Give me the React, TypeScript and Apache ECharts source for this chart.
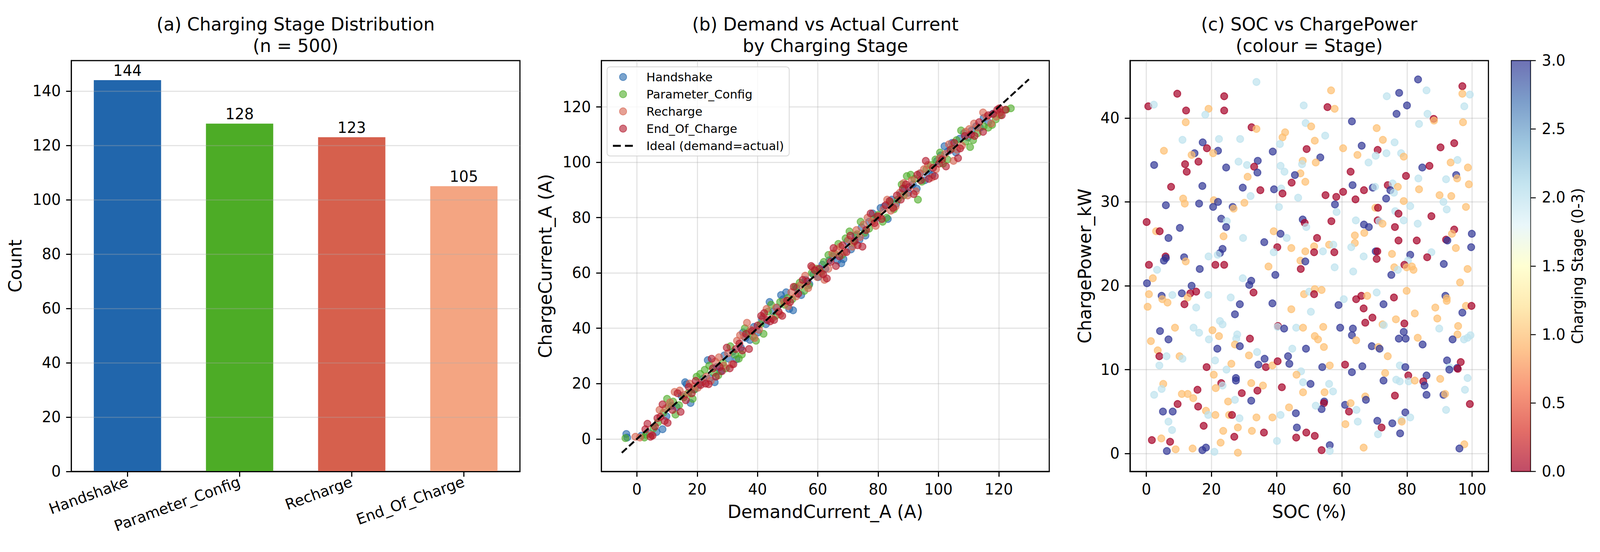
import React, { useEffect, useRef } from "react";
import * as echarts from "echarts";

// ---------------- data ----------------
const stageNames = ["Handshake", "Parameter_Config", "Recharge", "End_Of_Charge"];
const stageCounts = [144, 128, 123, 105];
const barColors = ["#2166ac", "#4dac26", "#d6604d", "#f4a582"];
const scatterColors = ["#2166ac", "#4dac26", "#d6604d", "#b2182b"];
const countTicks = [0, 20, 40, 60, 80, 100, 120, 140];
const currentTicks = [0, 20, 40, 60, 80, 100, 120];
const socTicks = [0, 20, 40, 60, 80, 100];
const powerTicks = [0, 10, 20, 30, 40];
const stageTicks = [0, 0.5, 1, 1.5, 2, 2.5, 3];
const idealName = "Ideal (demand=actual)";
const idealLine = [[-5, -5], [130, 130]];

// panel (b): [DemandCurrent_A, ChargeCurrent_A]
const handshakePts = [[-3.5,1.8],[-3.2,0.5],[1.5,1.2],[4.2,2.0],[6.5,2.5],[8.5,3.5],[9.8,8.2],[11.5,12.0],[13.2,11.5],[14.8,15.6],[16.0,20.5],[16.5,19.8],[17.8,13.0],[19.2,18.0],[20.5,19.5],[22.0,21.8],[23.5,28.5],[24.2,22.0],[25.8,20.5],[26.5,26.0],[27.8,24.5],[29.0,30.2],[30.5,29.0],[31.8,31.5],[33.0,28.8],[34.5,33.0],[35.2,38.5],[36.0,36.5],[37.5,35.8],[38.8,40.5],[40.2,38.5],[41.5,43.2],[42.8,41.5],[44.0,49.5],[45.2,46.0],[46.5,47.5],[47.8,52.0],[48.5,50.5],[49.5,53.0],[50.5,47.0],[51.8,46.5],[53.0,54.5],[54.5,52.0],[56.0,57.5],[57.2,56.0],[58.5,59.5],[60.2,58.5],[61.5,63.0],[62.5,61.5],[63.8,64.5],[65.0,66.0],[66.5,64.5],[67.8,63.5],[68.5,65.0],[69.8,71.5],[71.0,68.5],[72.5,73.5],[73.8,72.0],[74.5,76.5],[75.8,73.5],[77.0,78.5],[78.2,81.5],[79.5,80.0],[80.8,83.5],[82.0,84.0],[83.2,79.5],[84.5,86.5],[86.0,85.0],[87.5,88.5],[88.8,90.5],[90.0,89.0],[91.5,92.0],[92.8,90.5],[94.0,96.0],[95.5,93.5],[96.8,96.0],[98.0,95.5],[99.5,100.5],[100.8,102.5],[102.0,105.8],[103.2,104.0],[104.5,107.0],[105.8,103.5],[107.0,108.5],[108.5,110.5],[109.8,109.0],[111.0,111.5],[112.5,113.0],[113.8,112.5],[115.0,116.0],[116.5,114.5],[118.0,117.5]];
const paramConfigPts = [[-3.8,0.3],[2.5,0.5],[3.0,1.5],[5.5,3.8],[7.0,6.0],[8.8,9.5],[10.0,14.5],[10.5,11.8],[12.0,13.5],[12.8,8.8],[14.0,12.2],[15.5,15.0],[17.0,16.5],[18.5,14.5],[19.0,17.8],[19.8,22.5],[21.0,23.5],[22.5,25.0],[24.0,26.5],[25.5,24.0],[27.0,23.0],[28.5,27.5],[29.5,25.5],[31.0,33.5],[32.5,30.5],[33.8,29.0],[34.8,30.5],[35.8,40.0],[37.0,38.5],[38.5,37.0],[39.5,35.5],[41.0,41.5],[42.0,38.0],[43.5,46.0],[44.5,48.5],[46.0,44.5],[47.5,49.5],[49.0,48.5],[50.0,51.0],[51.5,50.5],[52.5,55.0],[54.0,56.5],[55.5,53.5],[57.0,55.5],[58.0,60.0],[59.5,61.5],[61.0,60.5],[62.0,64.0],[63.5,66.5],[65.5,67.0],[66.8,70.5],[68.0,66.5],[69.2,72.5],[70.5,75.0],[71.8,71.0],[73.0,74.0],[74.2,78.5],[75.5,74.5],[77.0,76.0],[78.5,79.5],[80.0,81.0],[81.5,78.5],[82.8,80.0],[84.0,85.5],[85.2,83.0],[86.5,86.5],[87.8,92.0],[88.5,88.0],[89.5,95.0],[90.8,95.5],[92.0,94.0],[93.2,86.5],[94.5,93.0],[96.0,97.5],[97.5,99.0],[99.0,101.0],[100.5,103.5],[101.5,99.5],[103.0,101.0],[104.5,105.0],[106.0,108.0],[107.5,111.5],[109.0,107.5],[110.5,105.5],[111.5,108.0],[113.0,110.5],[115.0,113.0],[116.5,112.5],[117.8,113.5],[119.0,115.5],[120.5,117.0],[122.5,119.0],[124.0,119.5]];
const rechargePts = [[-0.5,0.8],[1.0,0.5],[4.8,1.5],[7.5,10.5],[9.5,11.0],[11.0,13.2],[12.5,17.0],[14.2,17.5],[15.8,16.0],[17.5,20.0],[18.8,19.0],[20.2,18.5],[21.5,20.5],[23.0,22.5],[24.5,21.0],[26.0,28.0],[27.2,29.5],[28.8,26.5],[30.2,31.0],[31.5,27.0],[33.2,35.5],[34.2,37.5],[35.5,37.0],[36.5,42.0],[37.8,39.5],[39.0,36.5],[40.5,39.5],[41.8,44.0],[43.0,47.0],[44.8,43.5],[46.2,47.5],[47.5,45.0],[48.8,49.5],[50.2,48.0],[51.2,53.0],[52.8,51.5],[54.2,55.5],[55.8,59.0],[56.8,54.5],[58.2,62.0],[59.8,58.5],[61.2,60.0],[62.2,57.5],[63.5,61.5],[64.8,67.0],[66.2,68.5],[67.5,69.5],[68.8,67.5],[70.2,72.0],[71.5,69.5],[72.8,75.5],[74.0,73.0],[75.2,77.5],[76.5,80.0],[78.0,78.5],[79.2,77.0],[80.5,80.5],[81.8,83.0],[83.0,86.5],[84.2,82.5],[85.8,84.0],[87.2,89.0],[88.5,92.5],[89.8,88.0],[91.2,93.5],[92.5,89.5],[93.8,96.0],[95.2,97.5],[96.5,99.0],[97.8,94.5],[99.2,97.5],[100.5,101.5],[102.2,103.0],[103.5,106.5],[105.0,100.5],[106.2,104.5],[107.8,106.0],[109.0,111.0],[110.2,112.0],[111.8,114.0],[113.0,112.5],[114.8,118.0],[116.0,116.5],[117.5,114.0],[119.2,116.5],[120.5,118.0]];
const endOfChargePts = [[2.8,3.5],[3.5,5.5],[4.5,0.8],[5.2,1.2],[6.0,4.5],[6.8,7.5],[7.8,8.0],[8.5,12.5],[9.2,6.5],[10.2,5.8],[11.8,10.5],[13.5,16.5],[14.5,9.8],[16.2,14.0],[17.2,18.8],[18.2,16.5],[19.5,21.0],[21.2,19.5],[22.8,20.0],[23.8,19.8],[24.8,29.0],[25.2,25.5],[26.2,22.5],[27.5,26.0],[28.2,24.5],[29.8,33.0],[30.8,25.5],[32.0,27.0],[32.8,32.5],[34.0,34.5],[35.0,32.0],[36.2,38.0],[37.2,32.5],[38.2,39.0],[40.0,41.0],[41.2,44.5],[42.2,45.5],[43.2,43.0],[44.2,42.5],[45.5,43.0],[47.0,46.0],[48.2,44.5],[49.8,50.0],[50.8,49.5],[52.0,55.0],[53.5,52.5],[55.0,57.5],[56.5,57.0],[57.8,62.5],[59.0,61.0],[60.5,61.5],[61.8,59.5],[63.0,58.0],[64.2,64.0],[65.2,69.0],[66.0,62.5],[67.2,66.0],[68.2,70.0],[69.5,67.5],[70.8,73.5],[72.2,71.5],[73.2,70.0],[74.8,69.5],[76.0,75.5],[77.5,81.5],[78.8,78.0],[79.8,80.5],[81.2,79.5],[82.5,84.5],[83.8,86.0],[85.0,83.5],[86.2,88.0],[87.5,86.5],[88.2,90.5],[89.2,92.0],[90.2,91.0],[91.8,88.5],[93.0,95.5],[94.2,93.5],[95.8,100.5],[96.8,94.0],[98.2,98.0],[98.8,95.0],[100.2,99.5],[101.2,101.0],[102.5,98.5],[104.0,104.5],[105.2,107.0],[106.5,101.5],[107.2,105.0],[108.8,109.5],[110.8,110.0],[112.0,109.5],[113.5,114.5],[114.8,111.0],[116.5,117.0],[118.2,117.5],[119.5,119.0],[120.2,119.5],[121.0,117.0],[122.2,119.0]];
const stagePts = [handshakePts, paramConfigPts, rechargePts, endOfChargePts];

// panel (c): [SOC %, ChargePower_kW, stage 0-3]
const socPowerLowSocHigh = [[33.8,44.3,2],[9.5,42.9,0],[23.9,42.6,0],[0.6,41.4,0],[2.3,41.6,2],[12.2,40.9,0],[19.1,41.1,1],[18.1,40.4,2],[23.9,40.9,0],[48.3,41.5,2],[12.1,39.5,1],[32.3,38.9,0],[33.8,38.7,1],[48.9,39.4,2],[42.6,38.3,1],[41.8,37.7,1],[41.0,36.9,2],[11.1,37.4,2],[22.3,37.5,2],[28.8,37.5,2],[17.3,37.1,3],[18.6,36.4,0],[22.0,36.1,3],[5.4,36.1,1],[14.8,35.8,3],[13.9,35.6,1],[20.5,35.8,1],[49.2,36.3,0],[38.8,36.0,3],[2.4,34.4,3],[11.9,34.5,0],[16.0,34.8,0],[12.4,33.6,0],[24.5,34.1,3],[28.3,34.8,2],[30.9,34.4,2],[34.2,34.9,3],[33.1,34.2,0],[34.1,33.5,3],[31.1,33.0,1],[41.2,34.3,2],[42.4,33.6,2],[48.0,34.9,1],[47.8,34.5,2],[47.3,33.4,1],[45.6,33.2,3],[44.6,32.3,0],[48.8,32.4,1],[7.6,31.8,0],[17.2,31.9,3],[29.6,31.7,3],[35.0,31.4,0],[39.2,31.5,3],[41.4,31.6,2],[41.8,31.0,0],[32.0,30.7,2],[46.6,30.5,2],[11.3,30.4,1],[11.8,29.8,1],[6.0,29.6,3],[16.2,29.8,3],[20.7,30.2,1],[22.0,30.0,3],[20.5,29.4,3],[26.5,29.4,3],[26.8,29.2,1],[30.1,29.9,1],[40.7,29.4,2],[0.1,27.6,0],[3.0,26.5,1],[4.1,26.5,0],[10.3,26.9,3],[6.8,25.7,3],[23.0,28.0,3],[24.7,27.7,2],[24.5,27.0,3],[23.7,25.9,1],[29.7,25.7,2],[36.2,25.2,3],[39.1,26.5,1],[41.2,26.2,3],[43.1,25.7,2],[40.2,24.6,0],[39.1,24.0,2],[44.5,24.5,1],[48.8,24.1,1],[48.0,27.9,3],[48.6,27.5,0],[49.1,27.0,2],[23.4,24.4,3],[22.6,23.9,3],[21.9,23.7,2],[19.1,23.5,2],[5.9,23.5,0],[6.0,23.3,3],[5.4,23.0,3],[11.6,23.4,3],[12.1,22.9,1],[0.8,22.5,0],[21.2,22.5,0],[23.9,22.5,0],[37.5,22.3,1],[47.3,23.0,1],[48.8,22.9,3],[47.4,22.0,0],[3.3,21.9,2],[16.4,22.0,3]];
const socPowerHighSocHigh = [[56.7,43.3,1],[55.6,41.3,0],[57.8,41.1,1],[73.8,42.6,2],[77.6,43.0,3],[83.4,44.6,3],[86.0,43.3,2],[80.0,41.5,3],[76.8,40.5,3],[86.3,40.5,2],[88.2,39.9,0],[88.3,39.7,1],[83.7,39.3,2],[97.0,43.8,0],[97.0,42.9,1],[99.3,42.8,2],[97.6,41.4,2],[97.2,39.5,1],[63.1,39.6,3],[70.7,38.8,1],[54.9,37.9,2],[51.7,37.3,1],[72.6,37.4,1],[76.2,37.1,2],[60.4,36.4,1],[66.1,36.7,3],[71.0,36.2,0],[64.8,35.6,1],[70.4,35.5,2],[73.7,35.8,2],[78.2,35.8,2],[79.0,35.4,1],[53.4,35.3,3],[52.0,34.7,1],[68.2,34.7,2],[90.3,36.5,0],[94.5,37.0,0],[93.4,34.7,1],[95.5,35.0,2],[98.7,34.1,1],[84.7,34.1,3],[86.9,34.3,0],[62.7,33.6,0],[79.7,33.1,0],[83.5,32.8,2],[92.0,32.7,2],[95.1,33.2,3],[95.4,32.8,1],[99.0,32.1,1],[63.3,32.0,3],[66.8,31.4,0],[69.5,31.7,3],[70.2,31.8,2],[74.1,32.0,0],[75.6,32.2,2],[77.2,31.8,1],[74.9,31.4,3],[76.0,31.1,2],[83.7,31.5,1],[55.0,30.8,0],[58.3,30.6,0],[60.4,31.2,0],[64.2,30.3,0],[73.6,30.4,3],[90.0,30.8,1],[93.6,30.7,1],[91.2,30.0,2],[92.2,29.1,2],[79.0,30.1,1],[57.9,29.7,3],[58.4,28.8,2],[70.3,29.3,1],[71.1,29.3,0],[81.0,29.5,2],[76.4,28.9,2],[77.4,28.6,0],[98.1,29.4,1],[87.5,28.3,0],[56.8,27.7,0],[64.3,27.8,2],[71.0,27.8,0],[71.5,27.7,2],[72.5,27.4,1],[79.0,27.8,2],[83.3,27.4,2],[66.8,27.3,3],[68.3,27.0,3],[76.3,27.0,0],[64.0,26.0,1],[66.9,26.3,1],[64.0,25.1,1],[62.9,24.6,2],[52.4,25.7,0],[51.5,24.7,1],[51.5,24.0,0],[54.2,24.1,2],[56.1,24.9,1],[57.4,24.9,2],[57.7,24.0,0],[77.4,25.4,0],[83.0,25.4,0],[94.5,26.7,0],[93.8,26.2,1],[92.0,25.5,0],[92.4,25.4,3],[99.9,26.2,3],[95.0,24.5,1],[99.7,24.6,3],[70.4,24.1,3],[70.9,24.1,0],[70.7,23.2,0],[66.7,23.5,2],[75.4,23.8,1],[81.0,23.7,3],[87.5,24.0,2],[86.2,23.4,0],[91.3,22.6,3],[80.3,23.0,2],[50.6,39.0,1],[57.8,22.2,2],[76.1,22.2,1],[77.2,21.9,2],[79.2,22.5,0],[79.9,22.2,1],[81.5,22.3,1],[82.0,21.9,1],[75.2,21.3,3],[63.5,21.7,2],[98.6,22.0,1],[96.3,20.4,1]];
const socPowerLowSocLow = [[2.0,20.9,1],[0.2,20.3,3],[0.8,19.0,1],[4.7,18.8,3],[4.9,18.4,1],[6.5,18.0,1],[8.0,18.9,2],[0.4,17.5,1],[10.9,19.1,3],[13.9,20.0,3],[13.5,19.1,0],[15.3,19.3,0],[12.7,18.6,1],[11.7,17.8,0],[15.3,17.4,2],[19.0,18.9,2],[25.9,18.6,2],[28.7,17.8,3],[27.2,16.6,3],[29.6,20.9,2],[32.2,20.6,3],[31.6,20.1,3],[32.9,19.2,0],[39.6,21.3,3],[38.7,17.9,3],[44.5,17.2,1],[48.4,19.0,1],[50.0,19.3,2],[50.5,16.9,2],[22.6,15.8,2],[23.4,15.4,2],[8.8,15.0,1],[4.2,14.6,3],[14.5,15.0,2],[16.2,14.4,2],[20.3,14.7,1],[22.3,14.0,1],[19.2,13.6,2],[1.4,13.4,1],[6.8,13.6,3],[27.9,14.2,2],[27.6,13.7,2],[31.8,13.7,0],[27.2,13.0,1],[28.7,12.8,3],[21.8,12.5,3],[3.5,12.3,1],[4.0,11.6,0],[6.2,11.6,2],[10.2,11.6,1],[11.1,11.3,2],[4.0,10.5,2],[21.1,11.1,2],[18.5,10.3,0],[26.1,10.7,1],[24.6,10.0,2],[31.5,11.7,1],[34.0,12.1,2],[36.3,11.3,3],[34.4,10.6,3],[36.7,10.3,0],[38.7,10.5,1],[40.3,11.0,0],[40.4,15.2,0],[40.3,15.1,2],[42.3,14.9,3],[46.0,15.0,2],[48.1,15.0,1],[44.8,12.5,2],[49.0,12.5,3],[43.5,11.6,3],[43.9,10.7,3],[47.5,9.8,2],[46.1,9.4,1],[48.1,8.5,2],[50.4,8.3,3],[48.1,7.3,1],[20.7,9.4,1],[27.5,9.0,3],[27.5,8.7,3],[23.0,8.4,0],[23.4,8.1,2],[21.3,7.8,1],[32.2,8.4,1],[35.8,8.1,1],[34.1,7.5,0],[29.3,7.2,0],[41.6,7.9,0],[5.2,8.3,1],[4.7,7.7,2],[2.4,7.0,2],[10.9,7.1,1],[12.7,7.1,1],[14.4,6.6,1],[15.7,7.6,0],[9.6,5.9,0],[15.9,5.6,0],[18.3,5.1,1],[19.0,4.6,2],[21.2,4.6,1],[5.1,5.0,3],[8.1,5.0,3],[6.8,3.8,2],[7.9,2.8,2],[17.6,3.3,0],[25.1,6.2,1],[27.2,6.4,2],[32.2,6.3,3],[25.4,4.6,1],[26.3,4.6,0],[28.6,4.2,2],[33.8,4.3,1],[38.7,4.3,1],[41.2,4.6,2],[43.8,5.5,1],[45.9,4.8,3],[23.6,2.7,1],[28.1,3.1,1],[32.4,2.7,1],[36.1,2.5,0],[27.0,2.0,0],[46.2,3.1,3],[49.1,2.5,0],[46.0,1.9,0],[40.1,1.5,2],[1.7,1.6,0],[4.6,1.8,1],[7.3,1.4,0],[6.3,0.3,3],[9.0,0.5,1],[14.2,0.6,1],[17.2,0.4,3],[18.3,0.7,3],[20.9,0.2,2],[22.8,1.3,1],[28.1,0.1,1]];
const socPowerHighSocLow = [[51.7,19.6,1],[51.5,19.0,0],[53.8,19.5,1],[59.0,17.7,3],[60.6,18.4,2],[64.4,18.4,0],[66.0,18.8,0],[67.8,18.8,1],[70.7,19.2,2],[76.0,18.6,0],[72.8,17.8,3],[79.9,19.4,1],[66.7,17.3,0],[69.4,16.2,0],[67.2,15.6,0],[54.3,15.1,1],[59.5,15.0,3],[63.4,14.9,3],[63.1,14.1,3],[64.4,13.5,1],[51.7,14.0,1],[52.7,13.6,1],[54.5,12.7,1],[72.5,15.4,1],[72.9,15.3,2],[76.6,16.0,1],[79.2,15.5,0],[79.0,14.5,3],[77.5,13.7,3],[79.6,13.7,3],[82.4,16.7,1],[83.3,13.8,1],[84.8,13.0,3],[69.2,12.8,3],[71.2,12.7,1],[71.6,12.5,3],[74.1,11.6,1],[88.7,17.4,1],[89.3,16.1,1],[89.9,14.9,2],[91.8,18.8,3],[92.2,18.5,1],[92.2,18.2,1],[98.1,17.6,1],[99.8,17.6,0],[97.0,16.8,3],[95.7,15.2,1],[95.5,14.2,1],[94.0,13.6,3],[97.5,13.6,2],[98.6,13.8,2],[99.5,14.1,2],[54.0,10.3,3],[56.3,10.5,1],[61.0,10.6,0],[63.1,9.7,3],[66.3,10.4,3],[73.3,9.6,1],[72.8,8.7,3],[77.8,10.5,2],[79.5,10.3,3],[80.4,9.3,0],[80.5,8.6,2],[76.7,8.8,2],[77.8,8.6,2],[82.4,8.7,1],[86.0,9.3,3],[85.0,8.6,0],[85.4,8.1,3],[86.0,7.0,3],[90.2,8.9,1],[92.3,11.1,3],[93.0,10.3,2],[93.0,10.0,3],[96.5,10.9,0],[95.4,10.2,3],[95.6,10.1,0],[98.6,9.0,2],[97.8,7.6,2],[91.2,7.0,3],[91.7,7.1,1],[99.3,5.9,0],[92.0,5.2,2],[56.1,8.3,2],[54.7,7.3,1],[57.3,7.4,2],[54.6,6.2,3],[54.5,6.0,0],[53.8,5.3,3],[52.0,5.7,2],[67.2,6.8,1],[67.4,6.4,3],[76.3,6.9,0],[61.0,5.8,3],[62.7,6.0,1],[62.2,5.0,0],[64.5,5.2,2],[61.1,3.5,1],[64.9,3.8,2],[70.9,3.9,3],[72.2,3.1,0],[71.1,2.3,2],[75.5,3.6,3],[78.3,4.0,2],[78.4,3.8,1],[79.5,4.9,3],[81.0,4.3,2],[77.9,2.4,3],[51.7,2.1,0],[53.8,0.4,0],[56.3,1.0,3],[56.3,0.3,2],[66.7,0.7,1],[97.6,1.1,1],[96.1,0.6,3]];
const socPowerStage = [...socPowerLowSocHigh, ...socPowerHighSocHigh, ...socPowerLowSocLow, ...socPowerHighSocLow];

// RdYlBu colormap stops (0 -> 1) and per-stage colours
const rdylbu = ["#a50026", "#d73027", "#f46d43", "#fdae61", "#fee090", "#ffffbf", "#e0f3f8", "#abd9e9", "#74add1", "#4575b4", "#313695"];
const stageCmap = ["#a50026", "#fdbf71", "#bde2ee", "#313695"];

const FONT = "DejaVu Sans";
const REF_W = 4259;
const REF_H = 1412;

function buildOption(W: number, H: number) {
  const sx = W / REF_W;
  const sy = H / REF_H;
  const sf = Math.min(sx, sy);
  const X = (v: number) => v * sx;
  const Y = (v: number) => v * sy;
  const F = (v: number) => v * sf;

  const TICK_FS = F(39.7);
  const LABEL_FS = F(47.5);
  const LEGEND_FS = F(31.7);
  const GRID_LINE = { color: "rgba(170,170,170,0.32)", width: F(3) };
  const AXIS_LINE = { show: true, onZero: false, lineStyle: { color: "#000", width: F(3) } };
  const TICK_STYLE = { color: "#000", width: F(3) };

  const valueAxis = (grid: number, min: number, max: number, ticks: number[], name: string, gap: number, isY: boolean, extra: any = {}) => ({
    gridIndex: grid,
    type: "value",
    min,
    max,
    name,
    nameLocation: "middle",
    nameGap: gap,
    nameRotate: isY ? 90 : 0,
    nameTextStyle: { fontSize: LABEL_FS, fontFamily: FONT, color: "#000" },
    axisLine: AXIS_LINE,
    axisTick: { show: true, length: F(14), lineStyle: TICK_STYLE, customValues: ticks },
    axisLabel: { fontSize: TICK_FS, fontFamily: FONT, color: "#000", margin: F(28), customValues: ticks },
    splitLine: { show: true, lineStyle: GRID_LINE },
    ...extra,
  });

  const titleStyle = { fontSize: LABEL_FS, fontWeight: "normal", fontFamily: FONT, color: "#000", lineHeight: Y(55) };
  const gridBase = { show: true, borderColor: "#000", borderWidth: F(3), backgroundColor: "transparent", containLabel: false };
  const GT = Y(155);
  const GH = Y(1051);

  return {
    animation: false,
    backgroundColor: "#ffffff",
    title: [
      { text: "(a) Charging Stage Distribution\n(n = 500)", left: X(787), top: Y(35), textAlign: "center", padding: 0, textStyle: titleStyle },
      { text: "(b) Demand vs Actual Current\nby Charging Stage", left: X(2197), top: Y(35), textAlign: "center", padding: 0, textStyle: titleStyle },
      { text: "(c) SOC vs ChargePower\n(colour = Stage)", left: X(3485), top: Y(35), textAlign: "center", padding: 0, textStyle: titleStyle },
    ],
    legend: {
      orient: "vertical",
      left: X(1616),
      top: Y(171),
      data: [
        ...stageNames.map((n) => ({ name: n })),
        { name: idealName, itemStyle: { opacity: 0 }, lineStyle: { type: [F(21), F(11)], width: F(5) } },
      ],
      itemWidth: F(54),
      itemHeight: F(19),
      itemGap: Y(14),
      selectedMode: false,
      formatter: (name: string) => `{t|${name}}`,
      textStyle: {
        fontSize: LEGEND_FS,
        fontFamily: FONT,
        color: "#000",
        rich: { t: { fontSize: LEGEND_FS, fontFamily: FONT, color: "#000", padding: [0, 0, 0, X(30)] } },
      },
      backgroundColor: "rgba(255,255,255,0.8)",
      borderColor: "#d4d4d4",
      borderWidth: F(2),
      borderRadius: F(8),
      padding: [Y(11), X(14), Y(11), X(13)],
    },
    grid: [
      { ...gridBase, left: X(190), top: GT, width: X(1194), height: GH },
      { ...gridBase, left: X(1601), top: GT, width: X(1192), height: GH },
      { ...gridBase, left: X(3008), top: GT, width: X(954), height: GH },
      { ...gridBase, left: X(4023), top: GT, width: X(51), height: GH, borderWidth: F(2.5) },
    ],
    xAxis: [
      {
        gridIndex: 0,
        type: "category",
        data: stageNames,
        z: 3,
        axisLine: { show: true, lineStyle: { color: "#000", width: F(3) } },
        axisTick: { show: true, alignWithLabel: true, length: F(14), lineStyle: TICK_STYLE },
        axisLabel: { interval: 0, rotate: 20, fontSize: TICK_FS, fontFamily: FONT, color: "#000", margin: F(26) },
        splitLine: { show: false },
      },
      valueAxis(1, -11.75, 136.75, currentTicks, "DemandCurrent_A (A)", Y(80), false),
      valueAxis(2, -5, 105, socTicks, "SOC (%)", Y(80), false),
      { gridIndex: 3, type: "category", data: [""], show: false },
    ],
    yAxis: [
      valueAxis(0, 0, 151.2, countTicks, "Count", X(125), true, { interval: 20, z: 3 }),
      valueAxis(1, -11.75, 136.75, currentTicks, "ChargeCurrent_A (A)", X(125), true),
      valueAxis(2, -2.14, 46.85, powerTicks, "ChargePower_kW", X(96), true),
      {
        gridIndex: 3,
        type: "value",
        min: 0,
        max: 3,
        interval: 0.5,
        position: "right",
        name: "Charging Stage (0-3)",
        nameLocation: "middle",
        nameRotate: 90,
        nameGap: X(106),
        nameTextStyle: { fontSize: TICK_FS, fontFamily: FONT, color: "#000" },
        axisLine: { show: false },
        axisTick: { show: true, length: F(14), lineStyle: { color: "#000", width: F(2.5) }, customValues: stageTicks },
        axisLabel: { fontSize: TICK_FS, fontFamily: FONT, color: "#000", margin: F(30), customValues: stageTicks, formatter: (v: number) => v.toFixed(1) },
        splitLine: { show: false },
      },
    ],
    series: [
      {
        type: "bar",
        xAxisIndex: 0,
        yAxisIndex: 0,
        barWidth: "60%",
        data: stageCounts.map((v, i) => ({ value: v, itemStyle: { color: barColors[i] } })),
        label: { show: true, position: "top", distance: F(5), fontSize: TICK_FS, fontFamily: FONT, color: "#000" },
      },
      ...stageNames.map((name, i) => ({
        type: "scatter",
        name,
        xAxisIndex: 1,
        yAxisIndex: 1,
        data: stagePts[i],
        symbol: "circle",
        symbolSize: F(18.5),
        itemStyle: { color: scatterColors[i], borderColor: scatterColors[i], borderWidth: F(2.5), opacity: 0.6 },
        z: 2,
      })),
      {
        type: "line",
        name: idealName,
        xAxisIndex: 1,
        yAxisIndex: 1,
        data: idealLine,
        symbol: "none",
        lineStyle: { color: "#000", width: F(5), type: [F(18), F(8)] },
        itemStyle: { color: "#000", opacity: 0 },
        z: 5,
      },
      {
        type: "scatter",
        xAxisIndex: 2,
        yAxisIndex: 2,
        symbol: "circle",
        symbolSize: F(18.5),
        data: socPowerStage.map((p) => ({
          value: [p[0], p[1]],
          itemStyle: { color: stageCmap[p[2]], borderColor: stageCmap[p[2]] },
        })),
        itemStyle: { borderWidth: F(2.5), opacity: 0.7 },
      },
      {
        type: "bar",
        xAxisIndex: 3,
        yAxisIndex: 3,
        barWidth: "100%",
        silent: true,
        data: [3],
        itemStyle: {
          opacity: 0.7,
          color: new echarts.graphic.LinearGradient(
            0, 1, 0, 0,
            rdylbu.map((c, i) => ({ offset: i / (rdylbu.length - 1), color: c }))
          ),
        },
      },
    ],
  };
}

export default function App() {
  const ref = useRef<HTMLDivElement>(null);
  useEffect(() => {
    const el = ref.current;
    if (!el) return;
    const W = el.clientWidth || window.innerWidth || REF_W;
    const H = el.clientHeight || window.innerHeight || REF_H;
    const chart = echarts.init(el, undefined, { renderer: "svg", width: W, height: H });
    chart.setOption(buildOption(W, H) as any);
    return () => chart.dispose();
  }, []);

  return (
    <div
      ref={ref}
      style={{ position: "fixed", left: 0, top: 0, width: "100vw", height: "100vh", background: "#fff" }}
    />
  );
}
